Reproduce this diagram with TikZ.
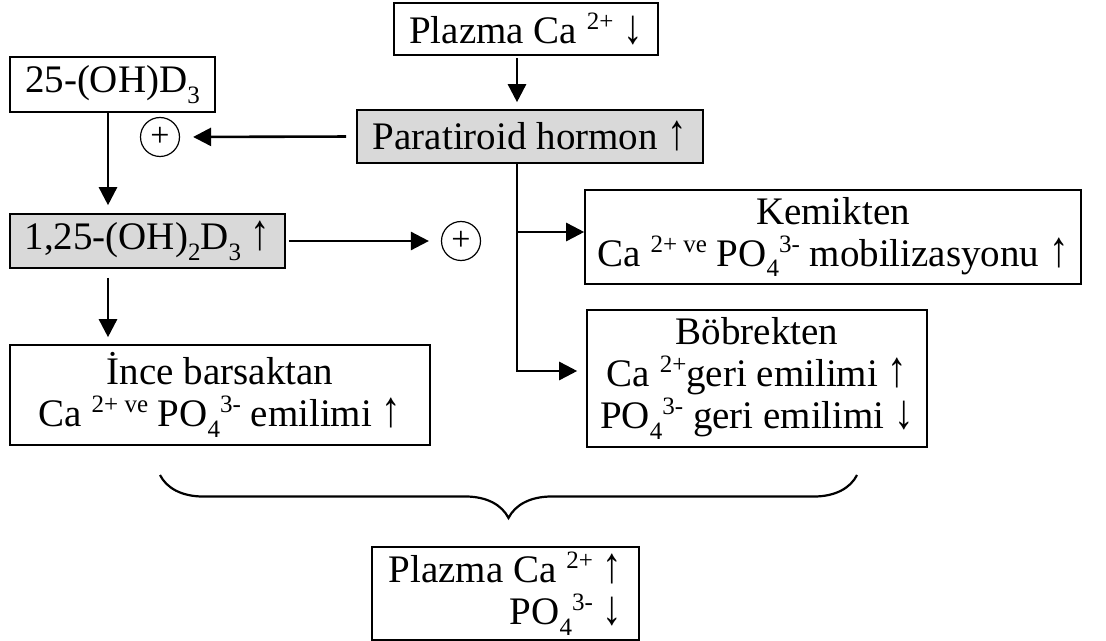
\documentclass[tikz,border=0pt]{standalone}
\usepackage{fontspec}
\usepackage{graphicx}
\setmainfont{Liberation Serif}
\usetikzlibrary{arrows.meta,decorations.pathreplacing}

\newcommand{\supx}[1]{\raisebox{0.36em}{\fontsize{12.5}{12.5}\selectfont #1}}
\newcommand{\subx}[1]{\raisebox{-0.28em}{\fontsize{12.5}{12.5}\selectfont #1}}
\newcommand{\upx}{\scalebox{1}[1.3]{↑}}
\newcommand{\dnx}{\scalebox{1}[1.25]{↓}}

\tikzset{
  box/.style={draw, line width=0.8pt, inner sep=0pt, align=center,
    font=\fontsize{19.5}{21}\selectfont},
  graybox/.style={box, fill=black!15},
  plus/.style={circle, draw, line width=0.6pt, inner sep=0pt, minimum size=19.5pt,
    font=\fontsize{17}{17}\selectfont},
  arr/.style={line width=1.3pt, -{Triangle[length=9pt,width=9pt]}}
}

\begin{document}
\begin{tikzpicture}[x=0.5pt, y=-0.5pt]
    \useasboundingbox (0,0) rectangle (1106,641);

    % Nodes
    \node[box, minimum width=132pt, minimum height=26pt] (plazmaA) at (526,29)
        {Plazma Ca \supx{2+} \dnx};
    \node[graybox, minimum width=173pt, minimum height=26.5pt] (pth) at (530,136.5)
        {Paratiroid hormon \upx};
    \node[box, minimum width=102.5pt, minimum height=27.5pt] (d25) at (112.5,84.5)
        {25-(OH)D\subx{3}};
    \node[graybox, minimum width=137.5pt, minimum height=27pt] (d125) at (147.5,241)
        {1,25-(OH)\subx{2}D\subx{3} \upx};
    \node[box, minimum width=210pt, minimum height=50pt] (ince) at (220,395)
        {İnce barsaktan\\Ca \supx{2+ ve} PO\subx{4}\supx{3-} emilimi \upx};
    \node[box, minimum width=248pt, minimum height=47pt] (kemik) at (833,237)
        {Kemikten\\Ca \supx{2+ ve} PO\subx{4}\supx{3-} mobilizasyonu \upx};
    \node[box, minimum width=170pt, minimum height=68.5pt] (bobrek) at (757,378.5)
        {Böbrekten\\Ca \supx{2+}geri emilimi \upx\\PO\subx{4}\supx{3-} geri emilimi \dnx};
    \node[box, align=right, minimum width=133.5pt, minimum height=46.5pt] (plazmaB) at (505.5,593.5)
        {Plazma Ca \supx{2+} \upx\\PO\subx{4}\supx{3-} \dnx};
    \node[plus] (plusA) at (160,137) {+};
    \node[plus] (plusB) at (461,241) {+};

    \coordinate (spine) at (517,0);
    \coordinate (lcol) at (108,0);
    \coordinate (kemikbr) at (517,232);
    \coordinate (bobrekbr) at (517,371);
    \coordinate (bracer) at (857,475);
    \coordinate (bracel) at (160,475);

    % Lines
    \draw[arr, shorten <=1pt, shorten >=3.5pt] (plazmaA.south -| spine) -- (pth.north -| spine);
    \draw[arr, shorten <=5pt, shorten >=6.5pt] (pth.west) -- (plusA.east);
    \draw[arr, shorten >=4pt] (d25.south -| lcol) -- (d125.north -| lcol);
    \draw[arr, shorten <=1.5pt, shorten >=6pt] (d125.east) -- (plusB.west);
    \draw[arr, shorten <=4.5pt, shorten >=3.5pt] (d125.south -| lcol) -- (ince.north -| lcol);
    \draw[arr, shorten >=4.5pt] (pth.south -| spine) -- (bobrekbr) -- (bobrek.west |- bobrekbr);
    \draw[arr] (kemikbr) -- (kemik.west |- kemikbr);

    % Brace
    \draw[line width=1.1pt, decorate, decoration={brace, amplitude=21.5pt}] (bracer) -- (bracel);

\end{tikzpicture}
\end{document}
